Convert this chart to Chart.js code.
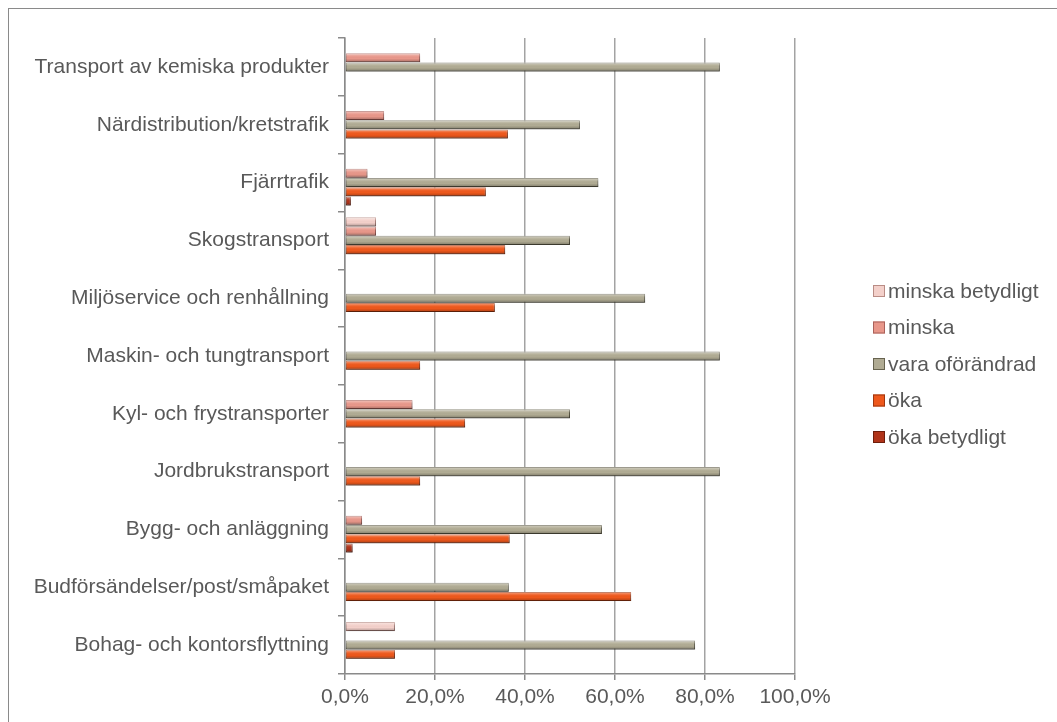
<!DOCTYPE html>
<html>
<head>
<meta charset="utf-8">
<script src="https://cdn.jsdelivr.net/npm/chart.js@4.4.1/dist/chart.umd.min.js"></script>
<style>
  html, body { margin: 0; padding: 0; background: #fff; overflow: hidden; }
  #frame { position: absolute; left: 8px; top: 8px; width: 1100px; height: 800px; border: 1px solid #8a8a8a; }
  #chart { position: absolute; left: 0; top: 0; }
</style>
</head>
<body>
<div id="frame"></div>
<canvas id="chart" width="1057" height="722"></canvas>
<script>
const categories = [
  "Transport av kemiska produkter",
  "Närdistribution/kretstrafik",
  "Fjärrtrafik",
  "Skogstransport",
  "Miljöservice och renhållning",
  "Maskin- och tungtransport",
  "Kyl- och frystransporter",
  "Jordbrukstransport",
  "Bygg- och anläggning",
  "Budförsändelser/post/småpaket",
  "Bohag- och kontorsflyttning"
];

const seriesNames = ["minska betydligt", "minska", "vara oförändrad", "öka", "öka betydligt"];

const minskaBetydligt = [null, null, null, 6.9, null, null, null, null, null, null, 11.1];
const minska = [16.7, 8.7, 5.0, 6.9, null, null, 15.0, null, 3.8, null, null];
const varaOforandrad = [83.3, 52.2, 56.3, 50.0, 66.7, 83.3, 50.0, 83.3, 57.1, 36.4, 77.8];
const oka = [null, 36.2, 31.3, 35.6, 33.3, 16.7, 26.7, 16.7, 36.6, 63.6, 11.1];
const okaBetydligt = [null, null, 1.3, null, null, null, null, null, 1.7, null, null];

const xTicks = [0, 20, 40, 60, 80, 100];

const fills = ["#f3d0ca", "#e8978a", "#b0ab93", "#ee581c", "#b0341a"];
const edges = ["#b98c85", "#a9615a", "#67634f", "#9e360f", "#6e1e0c"];

const font = "'Liberation Sans', Arial, sans-serif";
const textColor = "#595959";

// soft drop shadow under the bars, like the excel 3d look
const barShadow = {
  id: "barShadow",
  beforeDatasetsDraw(chart) {
    const c = chart.ctx;
    c.save();
    c.shadowColor = "rgba(0,0,0,0.3)";
    c.shadowBlur = 3;
    c.shadowOffsetX = 1;
    c.shadowOffsetY = 2;
  },
  afterDatasetsDraw(chart) {
    chart.ctx.restore();
    // shine on top, darker at the bottom of each bar
    const c = chart.ctx;
    chart.data.datasets.forEach((ds, i) => {
      chart.getDatasetMeta(i).data.forEach(bar => {
        const p = bar.getProps(["x", "y", "base", "height"], true);
        if (!p.x || p.x - p.base < 1) return;
        const top = p.y - p.height / 2;
        const g = c.createLinearGradient(0, top, 0, top + p.height);
        g.addColorStop(0, "rgba(255,255,255,0.45)");
        g.addColorStop(0.35, "rgba(255,255,255,0.05)");
        g.addColorStop(0.6, "rgba(0,0,0,0)");
        g.addColorStop(1, "rgba(0,0,0,0.28)");
        c.fillStyle = g;
        c.fillRect(p.base, top, p.x - p.base, p.height);
      });
    });
  }
};

// legend on the right, drawn by hand
const sideLegend = {
  id: "sideLegend",
  afterDraw(chart) {
    const c = chart.ctx;
    const x = 873;
    let y = 291;
    c.save();
    c.font = "21px " + font;
    c.textBaseline = "middle";
    chart.data.datasets.forEach(ds => {
      c.fillStyle = ds.backgroundColor;
      c.fillRect(x, y - 6, 12, 12);
      c.strokeStyle = ds.borderColor;
      c.lineWidth = 1;
      c.strokeRect(x + 0.5, y - 5.5, 11, 11);
      c.fillStyle = textColor;
      c.fillText(ds.label, x + 15, y + 1);
      y += 36.5;
    });
    c.restore();
  }
};

const allData = [minskaBetydligt, minska, varaOforandrad, oka, okaBetydligt];

new Chart(document.getElementById("chart"), {
  type: "bar",
  data: {
    labels: categories,
    datasets: allData.map((d, i) => ({
      label: seriesNames[i],
      data: d,
      backgroundColor: fills[i],
      borderColor: edges[i],
      borderWidth: 1,
      borderSkipped: false,
      categoryPercentage: 0.8,
      barPercentage: 0.98
    }))
  },
  options: {
    indexAxis: "y",
    responsive: false,
    animation: false,
    layout: { padding: { left: 8, top: 38, right: 262, bottom: 0 } },
    scales: {
      x: {
        min: 0,
        max: 100,
        afterBuildTicks(scale) {
          scale.ticks = xTicks.map(v => ({ value: v }));
        },
        afterFit(scale) { scale.height = 48; },
        ticks: {
          color: textColor,
          font: { family: font, size: 21 },
          padding: 5,
          callback: v => v.toFixed(1).replace(".", ",") + "%"
        },
        grid: { color: "#a3a3a3", lineWidth: 1.5, tickLength: 6, tickColor: "#8a8a8a" },
        border: { color: "#8a8a8a", width: 1.5 }
      },
      y: {
        afterFit(scale) { scale.width = 337; },
        ticks: {
          color: textColor,
          font: { family: font, size: 21 },
          padding: 9
        },
        grid: { drawOnChartArea: false, tickLength: 7, color: "#8a8a8a", lineWidth: 1.5 },
        border: { color: "#8a8a8a", width: 1.5 }
      }
    },
    plugins: {
      legend: { display: false },
      tooltip: { enabled: false }
    }
  },
  plugins: [barShadow, sideLegend]
});
</script>
</body>
</html>
